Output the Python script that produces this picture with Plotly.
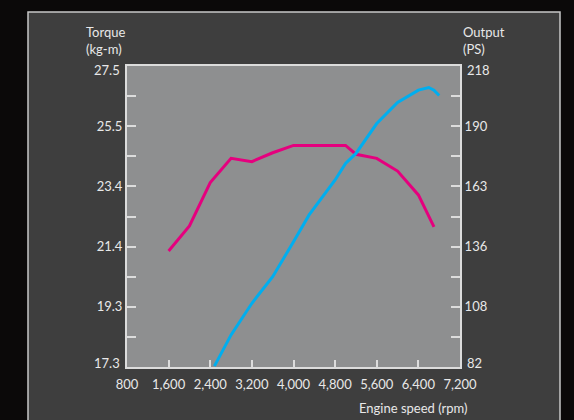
import plotly.graph_objects as go

# ---- data ----
rpm_torque = [1600, 2000, 2400, 2800, 3200, 3600, 4000, 5000, 5200, 5600, 6000, 6400, 6700]
torque_kgm = [21.23, 22.08, 23.55, 24.37, 24.26, 24.56, 24.81, 24.81, 24.51, 24.37, 23.94, 23.13, 22.05]

rpm_output = [2480, 2800, 3200, 3600, 4000, 4300, 4800, 5000, 5200, 5600, 6000, 6400, 6600, 6700, 6800]
output_ps = [82.4, 96.5, 110.8, 122.8, 138.6, 150.7, 166.5, 174.0, 178.5, 192.0, 201.5, 207.1, 208.3, 207.1, 204.7]

x_ticks = [800, 1600, 2400, 3200, 4000, 4800, 5600, 6400, 7200]
x_tick_labels = ["800", "1,600", "2,400", "3,200", "4,000", "4,800", "5,600", "6,400", "7,200"]

torque_range = [17.3, 27.5]
torque_tick_labels = ["17.3", "", "19.3", "", "21.4", "", "23.4", "", "25.5", "", "27.5"]
output_range = [82, 218]
output_tick_labels = ["82", "", "108", "", "136", "", "163", "", "190", "", "218"]

# ---- styling ----
W, H = 574, 420
L, R, T, B = 127, 460, 66, 367
FONT = "Lato"
FS = 13
TXT = "#e8e8e8"
AXC = "#dcdcdc"

n = len(torque_tick_labels)
t_vals = [torque_range[0] + i * (torque_range[1] - torque_range[0]) / (n - 1) for i in range(n)]
o_vals = [output_range[0] + i * (output_range[1] - output_range[0]) / (n - 1) for i in range(n)]

fig = go.Figure()
fig.add_trace(go.Scatter(x=rpm_torque, y=torque_kgm, mode="lines",
                         line=dict(color="#e5007e", width=3), yaxis="y", showlegend=False,
                         hoverinfo="skip"))
fig.add_trace(go.Scatter(x=rpm_output, y=output_ps, mode="lines",
                         line=dict(color="#00aeef", width=3), yaxis="y2", showlegend=False,
                         hoverinfo="skip"))

def px_x(p):
    return (p - L) / (R - L)

def px_y(p):
    return (B - p) / (B - T)

shapes = [
    dict(type="rect", xref="paper", yref="paper", layer="below",
         x0=px_x(28), x1=px_x(560), y0=px_y(440), y1=px_y(12),
         fillcolor="#3e3e3e", line=dict(color="#c8c8c8", width=1.5)),
    dict(type="rect", xref="paper", yref="paper", layer="below",
         x0=0, x1=1, y0=0, y1=1, fillcolor="#8e8f90", line=dict(width=0)),
]

tf = dict(family=FONT, size=FS, color=TXT)

annotations = [
    dict(text="Torque<br>(kg-m)", xref="paper", yref="paper", x=px_x(84), y=px_y(22),
         xanchor="left", yanchor="top", align="left", showarrow=False, font=tf),
    dict(text="Output<br>(PS)", xref="paper", yref="paper", x=px_x(461), y=px_y(22),
         xanchor="left", yanchor="top", align="left", showarrow=False, font=tf),
    dict(text="Engine speed (rpm)", xref="paper", yref="paper", x=px_x(469), y=px_y(408),
         xanchor="right", yanchor="middle", showarrow=False, font=tf),
]

# end labels sit slightly inside the axis span, as in the reference
y_left_text = list(torque_tick_labels)
y_right_text = list(output_tick_labels)
for idx, shift in ((0, 4), (n - 1, -4)):
    annotations.append(dict(text=torque_tick_labels[idx], xref="paper", yref="y",
                            x=0, y=t_vals[idx], xanchor="right", yanchor="middle",
                            xshift=-5, yshift=shift, showarrow=False, font=tf))
    annotations.append(dict(text=output_tick_labels[idx], xref="paper", yref="y2",
                            x=1, y=o_vals[idx], xanchor="left", yanchor="middle",
                            xshift=5, yshift=shift, showarrow=False, font=tf))
    y_left_text[idx] = ""
    y_right_text[idx] = ""

fig.update_layout(
    width=W, height=H,
    margin=dict(l=L, r=W - R, t=T, b=H - B, pad=0),
    paper_bgcolor="#0b0909",
    plot_bgcolor="rgba(0,0,0,0)",
    font=tf,
    shapes=shapes,
    annotations=annotations,
    hovermode=False,
    xaxis=dict(range=[x_ticks[0], x_ticks[-1]], tickvals=x_ticks, ticktext=x_tick_labels,
               ticks="inside", ticklen=7, tickwidth=1.5, tickcolor=AXC,
               showline=True, linecolor=AXC, linewidth=2, mirror=True,
               showgrid=False, zeroline=False, tickfont=tf, ticklabelstandoff=4),
    yaxis=dict(range=torque_range, tickvals=t_vals, ticktext=y_left_text,
               ticks="inside", ticklen=9, tickwidth=1.5, tickcolor=AXC,
               showline=True, linecolor=AXC, linewidth=2, mirror=True,
               showgrid=False, zeroline=False, tickfont=tf),
    yaxis2=dict(range=output_range, tickvals=o_vals, ticktext=y_right_text,
                overlaying="y", side="right",
                ticks="inside", ticklen=9, tickwidth=1.5, tickcolor=AXC,
                showline=True, linecolor=AXC, linewidth=2,
                showgrid=False, zeroline=False, tickfont=tf),
)

fig.write_html("out.html", config={"displayModeBar": False},
               post_script="document.body.style.margin='0';document.body.style.background='#0b0909';")
